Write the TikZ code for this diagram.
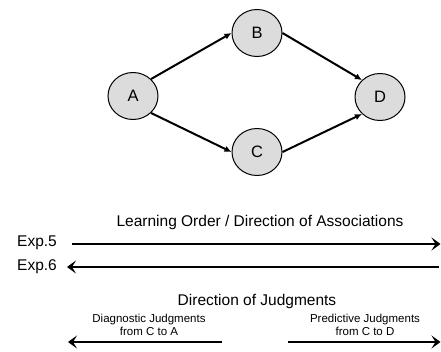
\documentclass[tikz,border=0pt]{standalone}
\usepackage{fontspec}
\setmainfont{Liberation Sans}
\usepackage{xcolor}
\usetikzlibrary{positioning,arrows.meta,shapes.geometric}
\definecolor{NodeFill}{HTML}{DCDCDC}

\begin{document}
\begin{tikzpicture}[x=1pt,y=-1pt,
    every node/.style={font=\fontsize{15.5}{18}\selectfont},
    ev/.style={ellipse,draw=black,line width=1pt,fill=NodeFill,
               minimum width=50pt,minimum height=47pt,inner sep=0pt,
               font=\fontsize{16.5}{18}\selectfont},
    ar/.style={-{Latex[length=7pt,width=6.5pt]},line width=2pt},
    big/.style={-{Stealth[length=9pt,width=13pt,inset=4pt]},line width=2.8pt},
    small/.style={font=\fontsize{11.5}{13}\selectfont,align=center,inner sep=0pt}]
  \useasboundingbox (0,0) rectangle (441,351);
  % cue/outcome structure
  \node[ev] (A) at (133,96)  {A};
  \node[ev] (B) at (257,33)  {B};
  \node[ev] (C) at (257,152) {C};
  \node[ev] (D) at (380,97)  {D};
  \draw[ar] (A.north east) -- (B.west);
  \draw[ar] (A.south east) -- (C.west);
  \draw[ar] (B.east) -- (D.north west);
  \draw[ar] (C.east) -- (D.south west);

  % learning order
  \node[inner sep=0pt] (learn) at (260,222) {Learning Order / Direction of Associations};
  \node[anchor=west,inner sep=0pt] (exp5) at (17,243) {Exp.5};
  \node[anchor=west,inner sep=0pt] (exp6) at (17,267) {Exp.6};
  \coordinate (e5l) at (72,244);
  \coordinate (e5r) at (440.5,244);
  \coordinate (e6l) at (67,267);
  \coordinate (e6r) at (439,267);
  \draw[big] (e5l) -- (e5r);
  \draw[big] (e6r) -- (e6l);

  % judgments
  \node[inner sep=0pt] (judg) at (257,301) {Direction of Judgments};
  \node[small] (diag) at (149,325) {Diagnostic Judgments\\from C to A};
  \node[small] (pred) at (365,325) {Predictive Judgments\\from C to D};
  \coordinate (dl) at (68,342);
  \coordinate (dr) at (222,342);
  \coordinate (pl) at (288,342);
  \coordinate (pr) at (440.5,342);
  \draw[big] (dr) -- (dl);
  \draw[big] (pl) -- (pr);
\end{tikzpicture}
\end{document}
